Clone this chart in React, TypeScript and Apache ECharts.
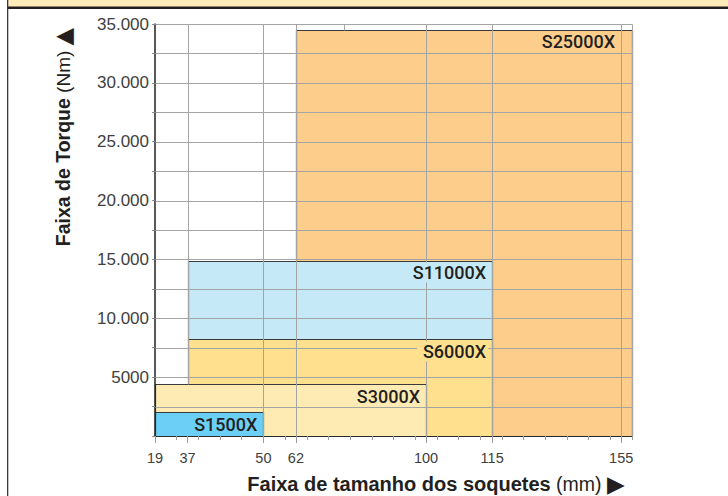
import React, { useEffect, useRef } from "react";
import * as echarts from "echarts";

// ---- data ----
const models = ["S1500X", "S3000X", "S6000X", "S11000X", "S25000X"];
const sizeFromMm = [19, 19, 37, 37, 62];
const sizeToMm = [50, 100, 115, 115, 155];
const torqueFromNm = [0, 0, 0, 8200, 0];
const torqueToNm = [2000, 4400, 8200, 14900, 34500];

// socket-size axis: labelled ticks and their place on the (non-proportional) axis, in minor-tick slots
const sizeTickLabels = [19, 37, 50, 62, 100, 115, 155];
const sizeTickSlots = [0, 1.5, 5, 6.5, 12.5, 15.55, 21.5];
const sizeAxisEndMm = 158;
const sizeAxisSlots = 22;

// torque axis
const torqueMax = 35000;
const torqueStep = 2500;
const torqueLabelStep = 5000;

// vertical grid lines (mm) and the torque they start from
const sizeGridMm = [37, 50, 62, 76, 100, 115, 155, 158];
const sizeGridFromNm = [4400, 0, 0, 34500, 0, 0, 0, 0];

// ---- styles ----
const fills = ["#6bcff6", "#feebb4", "#fee08f", "#c6e9f8", "#fdcd8c"];
const drawOrder = [4, 3, 2, 1, 0];

const knotsMm = [...sizeTickLabels, sizeAxisEndMm];
const knotsSlot = [...sizeTickSlots, sizeAxisSlots];
function toSlot(mm: number): number {
  for (let k = 0; k < knotsMm.length - 1; k++) {
    if (mm >= knotsMm[k] && mm <= knotsMm[k + 1]) {
      const t = (mm - knotsMm[k]) / (knotsMm[k + 1] - knotsMm[k]);
      return knotsSlot[k] + t * (knotsSlot[k + 1] - knotsSlot[k]);
    }
  }
  return mm < knotsMm[0] ? knotsSlot[0] : sizeAxisSlots;
}

function fmtTorque(v: number): string {
  if (v >= 10000) {
    return Math.floor(v / 1000) + "." + String(v % 1000).padStart(3, "0");
  }
  return String(v);
}

const crisp = (v: number) => Math.round(v) + 0.5;
const SANS = "Liberation Sans, Arial, Helvetica, sans-serif";

export default function App() {
  const ref = useRef<HTMLDivElement>(null);
  useEffect(() => {
    if (!ref.current) return;
    const chart = echarts.init(ref.current, undefined, { renderer: "svg" });

    const lastTick = sizeTickLabels[sizeTickLabels.length - 1];
    const rectData = drawOrder.map((i) => [
      toSlot(sizeFromMm[i]),
      sizeToMm[i] >= lastTick ? sizeAxisSlots : toSlot(sizeToMm[i]),
      torqueFromNm[i],
      torqueToNm[i],
      i,
    ]);
    const labelData = drawOrder.map((i) => [toSlot(sizeToMm[i]), torqueToNm[i], i]);

    const gridData: number[][] = [];
    for (let v = torqueStep; v <= torqueMax; v += torqueStep) {
      gridData.push([0, sizeAxisSlots, v, v]);
    }
    sizeGridMm.forEach((mm, k) => {
      const s = toSlot(mm);
      gridData.push([s, s, sizeGridFromNm[k], torqueMax]);
    });

    chart.setOption({
      animation: false,
      grid: { left: 155, right: 96, top: 24, bottom: 60, outerBoundsMode: "none" },
      xAxis: [
        {
          type: "value",
          min: 0,
          max: sizeAxisSlots,
          interval: 1,
          position: "bottom",
          z: 3,
          axisLine: { show: true, lineStyle: { color: "#2a2a2a", width: 1.2 } },
          axisTick: { show: true, length: 4, lineStyle: { color: "#9a9a9a" } },
          axisLabel: { show: false },
          splitLine: { show: false },
        },
        {
          type: "value",
          min: 0,
          max: sizeAxisSlots,
          position: "bottom",
          offset: 0,
          z: 3,
          axisLine: { show: false },
          axisTick: {
            show: true,
            customValues: sizeTickSlots,
            length: 7,
            lineStyle: { color: "#9a9a9a" },
          },
          axisLabel: {
            customValues: sizeTickSlots,
            margin: 14,
            color: "#404040",
            fontFamily: SANS,
            fontSize: 14.5,
            formatter: (v: number) => {
              let best = 0;
              sizeTickSlots.forEach((s, k) => {
                if (Math.abs(s - v) < Math.abs(sizeTickSlots[best] - v)) best = k;
              });
              return String(sizeTickLabels[best]);
            },
          },
          splitLine: { show: false },
        },
      ],
      yAxis: {
        type: "value",
        min: 0,
        max: torqueMax,
        interval: torqueStep,
        z: 3,
        axisLine: { show: true, lineStyle: { color: "#222", width: 1.5 } },
        axisTick: { show: true, length: 3, lineStyle: { color: "#888" } },
        axisLabel: {
          margin: 6,
          color: "#404040",
          fontFamily: SANS,
          fontSize: 17,
          formatter: (v: number) => (v > 0 && v % torqueLabelStep === 0 ? fmtTorque(v) : ""),
        },
        splitLine: { show: false },
      },
      series: [
        {
          type: "custom",
          z: 2,
          xAxisIndex: 0,
          yAxisIndex: 0,
          data: rectData,
          renderItem: (_p: any, api: any) => {
            const i = api.value(4);
            const a = api.coord([api.value(0), api.value(2)]);
            const b = api.coord([api.value(1), api.value(3)]);
            const x0 = crisp(a[0]);
            const x1 = crisp(b[0]);
            const y0 = crisp(a[1]);
            const y1 = crisp(b[1]);
            return {
              type: "rect",
              shape: { x: x0, y: y1, width: x1 - x0, height: y0 - y1 },
              style: { fill: fills[i], stroke: "#3a3a3a", lineWidth: 1.2 },
            };
          },
        },
        {
          type: "custom",
          z: 4,
          xAxisIndex: 0,
          yAxisIndex: 0,
          data: gridData,
          renderItem: (_p: any, api: any) => {
            const a = api.coord([api.value(0), api.value(2)]);
            const b = api.coord([api.value(1), api.value(3)]);
            return {
              type: "line",
              shape: { x1: crisp(a[0]), y1: crisp(a[1]), x2: crisp(b[0]), y2: crisp(b[1]) },
              style: { stroke: "#a4a4a4", lineWidth: 1 },
            };
          },
        },
        {
          type: "custom",
          z: 6,
          xAxisIndex: 0,
          yAxisIndex: 0,
          data: labelData,
          renderItem: (_p: any, api: any) => {
            const i = api.value(2);
            const p = api.coord([api.value(0), api.value(1)]);
            return {
              type: "text",
              x: p[0] - 4,
              y: p[1] + 12,
              style: {
                text: models[i],
                fill: "#231f20",
                fontFamily: "Roboto",
                fontWeight: 500,
                fontSize: 18,
                align: "right",
                verticalAlign: "middle",
                backgroundColor: fills[i],
                padding: [1, 2, 1, 6],
              },
            };
          },
        },
      ],
      graphic: [
        { type: "rect", left: 8, top: 0, shape: { width: 720, height: 7 }, style: { fill: "#feecb9" } },
        { type: "rect", left: 7, top: 6.5, shape: { width: 721, height: 2.5 }, style: { fill: "#231f20" } },
        { type: "rect", left: 7, top: 0, shape: { width: 1.3, height: 496 }, style: { fill: "#3a3a3a" } },
        {
          type: "text",
          x: 63,
          y: 137,
          rotation: Math.PI / 2,
          style: {
            text: "{b|Faixa de Torque} (Nm) {t|▲}",
            fill: "#231f20",
            fontFamily: SANS,
            fontSize: 19,
            align: "center",
            verticalAlign: "middle",
            rich: {
              b: { fontWeight: "bold", fontSize: 19.5, fontFamily: SANS, fill: "#231f20" },
              t: { fontFamily: "DejaVu Sans", fontSize: 23, fill: "#231f20" },
            },
          },
        },
        {
          type: "text",
          x: 436,
          y: 484,
          style: {
            text: "{b|Faixa de tamanho dos soquetes} (mm) {t|▶}",
            fill: "#231f20",
            fontFamily: SANS,
            fontSize: 19.5,
            align: "center",
            verticalAlign: "middle",
            rich: {
              b: { fontWeight: "bold", fontSize: 20, fontFamily: SANS, fill: "#231f20" },
              t: { fontFamily: "DejaVu Sans", fontSize: 23, fill: "#231f20" },
            },
          },
        },
      ],
    });
    return () => chart.dispose();
  }, []);
  return (
    <div
      ref={ref}
      style={{ position: "fixed", left: 0, top: 0, width: 728, height: 496, background: "#fff" }}
    />
  );
}
